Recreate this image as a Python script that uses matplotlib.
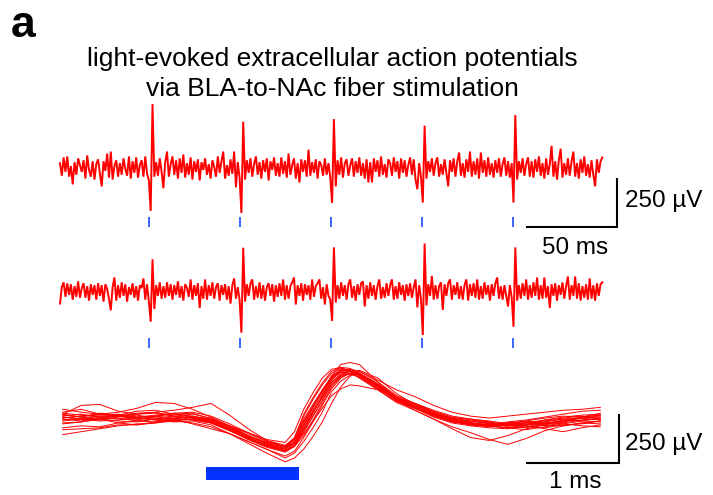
import numpy as np
import matplotlib
matplotlib.use('Agg')
import matplotlib.pyplot as plt

plt.rcParams['font.family'] = ['Liberation Sans', 'DejaVu Sans']

W, H = 713, 495

# two example sweeps, 1 ms per sample, in uV
sweep_dt = 1.0
sweep1 = [
    25, -40, 55, -20, 60, -45, 10, -85, 30, -35, 50, 15, -20, 40, -55, 65, -10, -45, 35, -60,
    20, 45, -30, -95, 35, -15, 75, -50, 85, -60, 10, 40, -45, 25, -35, 50, -5, -40, 60, -55,
    35, -25, 55, -50, 15, 40, -45, 60, -30, -65, -222, 331, -45, 30, -40, 50, -20, -105, 30, 85,
    -45, 20, 60, -35, 40, -55, 50, -25, 70, -50, 25, -35, 55, -60, 35, -20, 45, -65, 30, -10,
    50, -35, 20, -55, 40, 5, -45, 60, -25, 35, 85, -55, 15, -40, 45, -30, 85, -100, 30, -50,
    -233, 240, -60, 40, -25, 50, -45, 20, 60, -35, 30, -55, 40, -20, 50, -65, 35, -10, 55, -40,
    25, -45, 55, -30, 35, -50, 75, -35, 15, 50, -55, 25, -75, 45, -20, 40, -45, 95, -40, 30,
    -25, 45, -55, 35, 15, -40, 50, -35, 25, -50, -181, 253, -95, 40, -35, 55, -50, 25, 45, -40,
    15, 50, -45, 35, -25, 55, -40, 25, -55, 45, -75, 30, -75, 50, -20, 40, -45, 60, -35, 20,
    -50, 45, 25, -40, 55, -20, 35, -55, 50, -25, 40, -45, 15, 55, -35, 45, -60, -110, 25, -45,
    -179, 219, -55, 35, -20, 50, -40, 25, 55, -45, 20, -35, 45, -25, -95, 40, -20, 50, -45, 35,
    80, -40, 25, -50, 45, -20, 85, -45, 35, -35, 50, -55, 80, -25, 40, -45, 55, -35, 25, -50,
    40, -25, 50, -45, 20, 55, -40, 35, -50, 25, -179, 274, -60, 35, -25, 50, -40, 20, 55, -45,
    35, -50, 45, -20, 60, -40, 25, -55, 50, -35, 20, 115, -45, 35, -60, 40, 100, -50, 25, -35,
    50, -40, 35, 85, -45, 25, -55, 45, -25, 60, -40, 20, -50, 40, -35, -95, 45, -25, 35, 55,
]
sweep2 = [
    -65, 20, 45, -30, 40, -20, 35, -45, 25, -30, 50, -35, 15, 40, -35, 25, -50, 35, -20, 30,
    -45, 40, -25, 30, -55, 35, 10, -40, -100, 20, 70, -50, 30, -35, 45, -25, 35, -55, 20, -20,
    40, -35, 25, -50, 30, 15, 65, -45, 35, -55, -159, 164, -93, 30, -25, 45, -40, 25, -35, 45,
    -25, 35, -45, 30, -20, 50, -35, 25, -50, 35, 15, -30, 60, -45, 30, -25, 40, -88, 25, -40,
    60, -45, 30, -25, 45, -40, 20, 40, -50, 30, -20, 35, -45, 25, -65, 30, 65, -40, 20, -45,
    -216, 224, -55, 35, -25, 40, 60, -45, 25, -35, 45, -40, 30, -50, 20, 40, -25, 35, -55, 30,
    -30, 40, -25, 60, -45, 30, -40, 25, 45, 70, -70, 30, -25, 40, -50, 35, -20, 30, -45, 60,
    -30, 25, 40, 60, -40, 20, -70, 35, -25, -45, -155, 226, -60, 30, -40, 45, -25, 30, -45, 35,
    60, -35, 25, -50, 35, -20, 40, 50, -80, 30, -40, 45, -25, 30, -45, 25, 60, -40, 20, -35,
    40, -25, 30, 60, -45, 25, -40, 45, -20, 30, -50, 35, -25, 40, -35, 20, 60, -85, 30, -40,
    -228, 246, -75, 35, -25, 78, -45, 30, -40, 25, 45, -98, 35, -25, 40, 60, -45, 30, -20, 45,
    -40, 25, -45, 30, 60, -50, 35, -25, 40, -35, 60, -45, 25, -40, 45, -20, 30, -50, 35, -25,
    40, 70, -40, 25, -45, 30, -25, -80, 30, -35, -185, 226, -50, 30, -40, 40, -25, 60, -45, 30,
    -35, 45, -25, 70, -45, 30, -40, 70, -35, 25, -88, 35, -25, 40, -50, 30, -20, 45, -40, 25,
    75, -45, 30, -25, 75, -40, 40, -50, 25, -35, 35, -45, 65, -40, 30, -50, 40, -25, 35, 45,
]
stim_ms = [49, 99.5, 149.5, 199.5, 249.5]

# overlaid evoked spikes in uV, sampled at these times (ms); denser around the spike
wave_t = [0.0, 0.2, 0.4, 0.6, 0.8, 1.0, 1.2, 1.4, 1.6, 1.8, 2.0, 2.2, 2.4,
          2.5, 2.6, 2.7, 2.8, 2.9, 3.0, 3.1, 3.2,
          3.4, 3.6, 3.8, 4.0, 4.2, 4.4, 4.6, 4.8, 5.0, 5.2, 5.4, 5.6, 5.8]
waves = [
    [40, 55, 30, 25, 45, 50, 30, 20, 0, -40, -85, -120, -140, -105, -10, 70, 150, 215, 245, 250, 230, 175, 115, 70, 30, 0, -15, -25, -15, -5, -20, -10, 15, 25],
    [-20, -10, 5, -15, -25, -10, 5, -20, -45, -70, -110, -150, -195, -170, -110, -40, 40, 145, 200, 230, 240, 185, 110, 60, 15, -15, -30, -40, -45, -30, -40, -25, -20, -5],
    [-75, -60, -45, -30, -20, -15, -5, 5, -10, -50, -90, -130, -160, -135, -60, 20, 100, 185, 230, 250, 240, 180, 110, 65, 20, -5, -25, -30, -40, -35, -15, -5, 0, 10],
    [30, 75, 80, 45, 30, 35, 20, 30, 10, -35, -80, -115, -140, -100, 20, 105, 180, 240, 265, 255, 225, 165, 100, 60, 30, 5, -10, -10, -30, -25, 0, 10, 20, 5],
    [10, 20, 30, 40, 60, 90, 85, 55, 15, -30, -70, -110, -135, -90, 30, 115, 190, 250, 270, 265, 235, 170, 105, 65, 25, -10, -20, -30, -25, -15, -25, -5, 10, 20],
    [0, 10, 5, 20, 30, 40, 50, 65, 85, 25, -45, -105, -140, -115, -45, 35, 115, 195, 235, 250, 240, 180, 115, 75, 35, 5, -15, -25, -25, -15, -5, 5, -5, -10],
    [15, 5, -5, 0, 15, 0, -10, -5, -25, -70, -120, -170, -215, -195, -150, -85, -10, 85, 170, 225, 255, 215, 135, 80, 35, 10, -5, -20, -30, -20, -30, -15, 0, 5],
    [25, 15, 35, 25, 15, 25, 35, 15, 0, -30, -65, -100, -115, -60, 55, 140, 215, 260, 270, 250, 215, 155, 95, 60, 25, -5, -15, -25, -15, -10, -20, -10, 10, 15],
    [5, -5, 15, 20, 5, 10, 20, 10, -10, -50, -95, -125, -145, -120, -70, -5, 60, 125, 160, 180, 175, 155, 115, 85, 45, 15, 0, -15, -20, -25, -10, 5, 10, 0],
    [20, 30, 15, 5, 0, 20, 30, 35, 5, -30, -80, -125, -160, -130, -40, 40, 120, 205, 250, 260, 250, 195, 125, 85, 40, 10, 5, -5, -20, -15, 0, 15, 25, 30],
    [15, 5, 0, 15, 25, 10, 5, 0, -15, -55, -100, -135, -160, -120, -25, 55, 135, 210, 245, 240, 220, 155, 90, 50, 5, -35, -65, -100, -125, -95, -55, -30, -15, -5],
    [-5, 5, 20, 25, 10, 0, -5, 15, -5, -50, -95, -135, -160, -135, -60, 20, 100, 180, 225, 240, 230, 170, 100, 50, 5, -45, -90, -105, -80, -45, -25, -30, -15, -20],
    [-15, -10, 5, 10, -5, -10, 10, 15, -10, -45, -85, -115, -135, -95, 5, 80, 155, 220, 250, 260, 250, 205, 155, 120, 75, 40, 20, 10, 20, 30, 40, 50, 55, 65],
    [35, 25, 15, 20, 5, 20, 35, 40, 20, -20, -65, -105, -130, -95, -5, 70, 145, 220, 255, 250, 230, 170, 100, 60, 20, -10, -25, -20, -10, 0, 15, 30, 45, 50],
    [-40, -30, -35, -15, -5, 5, -5, -15, -35, -70, -110, -150, -185, -160, -90, -10, 75, 160, 215, 240, 240, 185, 120, 80, 40, 5, -15, -30, -40, -50, -35, -20, -30, -35],
    [10, 20, 25, 30, 15, 20, 10, 0, -15, -50, -100, -140, -165, -135, -50, 35, 125, 225, 285, 295, 285, 195, 115, 65, 25, -5, -25, -35, -20, -5, 10, 20, 15, 25],
    [30, 15, 5, -5, -10, 5, 10, 20, 5, -40, -90, -130, -150, -115, -30, 45, 115, 195, 235, 235, 220, 160, 110, 85, 50, 20, 5, -10, -35, -40, -20, 0, 15, 35],
    [-50, -45, -40, -25, -25, -15, 0, 5, -15, -55, -95, -130, -155, -135, -80, 0, 85, 170, 220, 240, 235, 175, 110, 70, 30, 0, -5, -15, -25, -30, -45, -60, -40, -25],
    [55, 40, 30, 20, 35, 40, 20, 10, -5, -40, -80, -120, -150, -115, -20, 65, 150, 225, 260, 260, 240, 180, 105, 65, 30, -5, -20, -30, -40, -25, -10, -20, -5, 10],
]
light_ms = [1.55, 2.55]

RED = '#ff0000'
BLUE = '#0433ff'
TICK_BLUE = '#2a5bff'


def pixel_axes(fig, x0, y0, ms_per_px, uv_per_px):
    # invisible full-figure axes whose data origin sits at pixel (x0, y0)
    ax = fig.add_axes([0, 0, 1, 1])
    ax.set_xlim(-x0 * ms_per_px, (W - x0) * ms_per_px)
    ax.set_ylim(-(H - y0) * uv_per_px, y0 * uv_per_px)
    ax.axis('off')
    ax.patch.set_visible(False)
    return ax


def figtext(x, y, s, **kw):
    fig.text(x / W, 1 - y / H, s, **kw)


fig = plt.figure(figsize=(W / 100, H / 100), dpi=100)

sweep_ms_px = 50 / 90.7
sweep_uv_px = 250 / 48.3

ax1 = pixel_axes(fig, 60, 168, sweep_ms_px, sweep_uv_px)
ax2 = pixel_axes(fig, 60, 291, sweep_ms_px, sweep_uv_px)

t1 = np.arange(len(sweep1)) * sweep_dt
t2 = np.arange(len(sweep2)) * sweep_dt
ax1.plot(t1, sweep1, color=RED, lw=1.4, solid_joinstyle='miter')
ax2.plot(t2, sweep2, color=RED, lw=1.4, solid_joinstyle='miter')

ax1.vlines(stim_ms, -305, -254, color=TICK_BLUE, lw=1.3)
ax2.vlines(stim_ms, -293, -242, color=TICK_BLUE, lw=1.3)

# 50 ms / 250 uV scale bar
ax1.plot([257, 307, 307], [-304, -304, -54], color='k', lw=1.5,
         solid_joinstyle='miter', solid_capstyle='butt')

wave_ms_px = 1 / 92.7
wave_uv_px = 250 / 48.7
ax3 = pixel_axes(fig, 62.7, 420, wave_ms_px, wave_uv_px)

for w in waves:
    ax3.plot(wave_t, w, color=RED, lw=0.7)

ax3.fill_between(light_ms, -308, -240, color=BLUE, lw=0)

# 1 ms / 250 uV scale bar
ax3.plot([5, 6, 6], [-219, -219, 31], color='k', lw=1.5,
         solid_joinstyle='miter', solid_capstyle='butt')

figtext(11, 37, 'a', fontsize=32, fontweight='bold', ha='left', va='baseline')
figtext(332, 66, 'light-evoked extracellular action potentials',
        fontsize=19, ha='center', va='baseline')
figtext(332, 96, 'via BLA-to-NAc fiber stimulation',
        fontsize=19, ha='center', va='baseline')

figtext(625, 207, '250 µV', fontsize=17.5, ha='left', va='baseline')
figtext(575, 254, '50 ms', fontsize=17.5, ha='center', va='baseline')
figtext(625, 450, '250 µV', fontsize=17.5, ha='left', va='baseline')
figtext(575, 488, '1 ms', fontsize=17.5, ha='center', va='baseline')

fig.savefig('out.png', dpi=100)
